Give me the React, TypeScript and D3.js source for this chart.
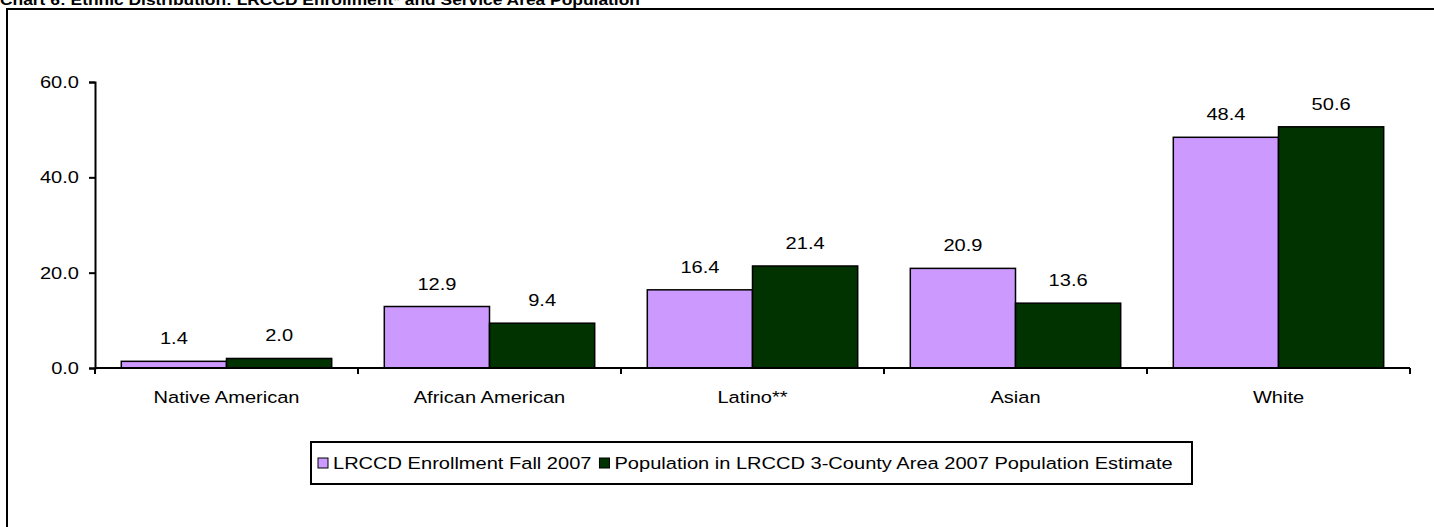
import { useEffect, useRef } from 'react';
import * as d3 from 'd3';

const categories = ['Native American', 'African American', 'Latino**', 'Asian', 'White'];
const seriesNames = ['LRCCD Enrollment Fall 2007', 'Population in LRCCD 3-County Area 2007 Population Estimate'];
const enrollment = [1.4, 12.9, 16.4, 20.9, 48.4];
const population = [2.0, 9.4, 21.4, 13.6, 50.6];
const yTicks = [0, 20, 40, 60];
const colors = ['#cc99ff', '#003300'];

const W = 1434;
const H = 527;
const SX = 1.18; // the original text is stretched sideways

export default function App() {
  const svgRef = useRef<SVGSVGElement>(null);

  useEffect(() => {
    if (!svgRef.current) return;
    const svg = d3.select(svgRef.current);
    svg.selectAll('*').remove();

    const font = 'Arial, "Liberation Sans", sans-serif';

    const label = (
      parent: d3.Selection<any, any, any, any>,
      x: number, y: number, txt: string, anchor = 'middle', size = 17,
    ) => parent.append('text')
      .attr('transform', `translate(${x},${y}) scale(${SX},1)`)
      .attr('text-anchor', anchor)
      .attr('font-family', font)
      .attr('font-size', size)
      .attr('fill', '#000')
      .text(txt);

    // Title (clipped at the top like the original)
    svg.append('text')
      .attr('transform', `translate(0,5) scale(1.16,1)`)
      .attr('font-family', font)
      .attr('font-weight', 'bold')
      .attr('font-size', 15)
      .text('Chart 6: Ethnic Distribution: LRCCD Enrollment* and Service Area Population');

    // Outer frame
    svg.append('path')
      .attr('d', `M7,${H} L7,9 L${W},9`)
      .attr('fill', 'none')
      .attr('stroke', '#000')
      .attr('stroke-width', 2);

    const x0 = d3.scaleBand<string>()
      .domain(categories)
      .range([95, 1410])
      .padding(0);

    const x1 = d3.scaleBand<string>()
      .domain(seriesNames)
      .range([0, x0.bandwidth()])
      .paddingInner(0)
      .paddingOuter(0.25);

    const y = d3.scaleLinear()
      .domain([0, 60])
      .range([368, 82]);

    // Y axis
    const yAxis = svg.append('g')
      .attr('transform', 'translate(95,0)')
      .call(d3.axisLeft(y).tickValues(yTicks).tickFormat(() => '').tickSizeOuter(0).tickSize(6));
    yAxis.select('.domain').attr('stroke', '#000').attr('stroke-width', 2);
    yAxis.selectAll('.tick line').attr('stroke', '#000').attr('stroke-width', 2);
    const fmt = d3.format('.1f');
    yTicks.forEach(t => label(svg, 79, y(t) + 6, fmt(t), 'end'));

    // Bars
    const values = [enrollment, population];
    const barG = svg.append('g');
    categories.forEach((c, ci) => {
      seriesNames.forEach((s, si) => {
        const v = values[si][ci];
        const bx = x0(c)! + x1(s)!;
        barG.append('rect')
          .attr('x', bx)
          .attr('y', y(v))
          .attr('width', x1.bandwidth())
          .attr('height', y(0) - y(v))
          .attr('fill', colors[si])
          .attr('stroke', '#000')
          .attr('stroke-width', 1.5);
        label(barG, bx + x1.bandwidth() / 2, y(v) - 17, fmt(v));
      });
    });

    // X axis
    const xAxis = svg.append('g');
    xAxis.append('line')
      .attr('x1', 95).attr('x2', 1410)
      .attr('y1', y(0)).attr('y2', y(0))
      .attr('stroke', '#000').attr('stroke-width', 2);
    const bounds = categories.map(c => x0(c)!).concat([x0.range()[1]]);
    xAxis.selectAll('.xt')
      .data(bounds)
      .enter()
      .append('line')
      .attr('class', 'xt')
      .attr('x1', d => d).attr('x2', d => d)
      .attr('y1', y(0)).attr('y2', y(0) + 6)
      .attr('stroke', '#000').attr('stroke-width', 2);
    categories.forEach(c => label(xAxis, x0(c)! + x0.bandwidth() / 2, 403, c));

    // Legend
    const legend = svg.append('g').attr('transform', 'translate(311,442)');
    legend.append('rect')
      .attr('x', 0).attr('y', 0)
      .attr('width', 881).attr('height', 42)
      .attr('fill', '#fff')
      .attr('stroke', '#000')
      .attr('stroke-width', 2);
    let cx = 7;
    seriesNames.forEach((s, si) => {
      legend.append('rect')
        .attr('x', cx).attr('y', 16)
        .attr('width', 10).attr('height', 10)
        .attr('fill', colors[si])
        .attr('stroke', '#000')
        .attr('stroke-width', 1);
      const t = label(legend, cx + 15, 27, s, 'start');
      const w = (t.node() as SVGTextElement).getComputedTextLength() * SX;
      cx += 15 + w + 8;
    });
  }, []);

  return (
    <div style={{ position: 'fixed', left: 0, top: 0, width: W, height: H, background: '#fff' }}>
      <svg ref={svgRef} width={W} height={H} />
    </div>
  );
}
